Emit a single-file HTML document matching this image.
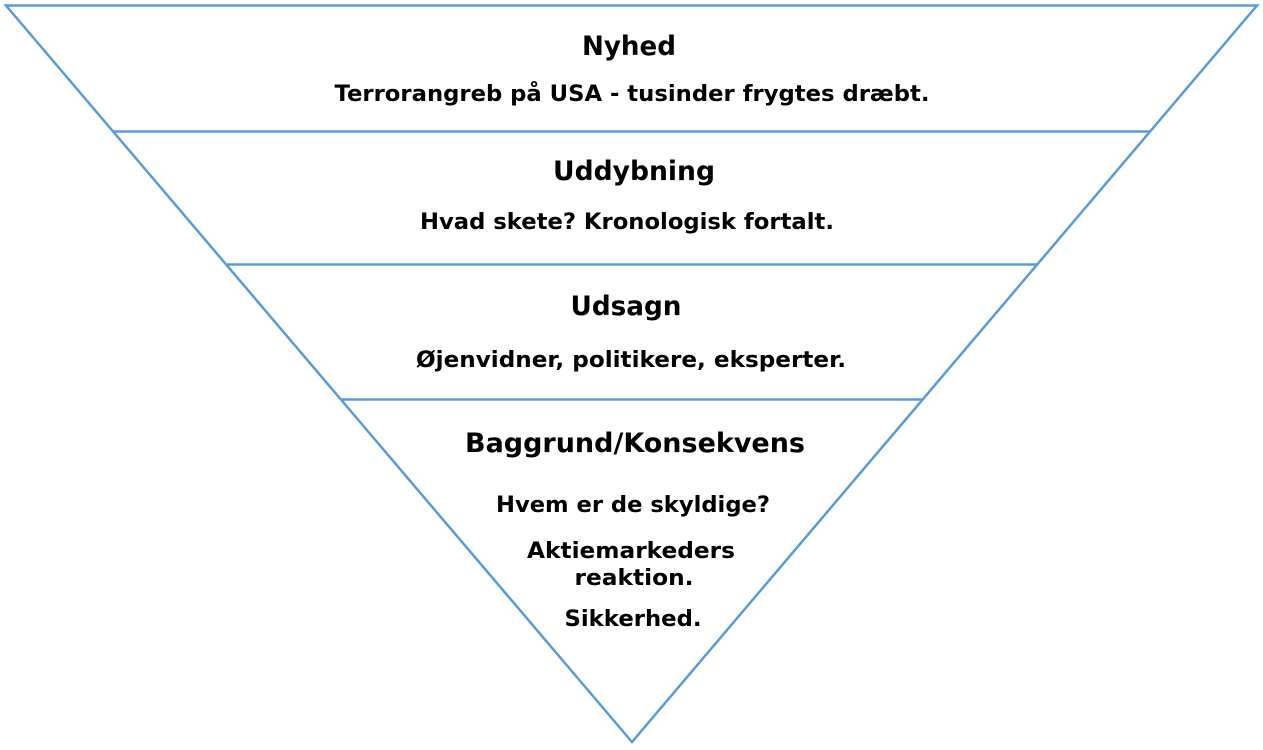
<!DOCTYPE html>
<html><head><meta charset="utf-8"><style>
html,body{margin:0;padding:0;background:#fff;}
svg{display:block}
text{font-family:"DejaVu Sans","Liberation Sans",sans-serif;font-weight:bold;fill:#000;text-anchor:middle}
.h{font-size:27px}
.s{font-size:22px}
</style></head><body>
<svg width="1263" height="750" viewBox="0 0 1263 750" xmlns="http://www.w3.org/2000/svg">
<g stroke="#5b9bd5" stroke-width="2.5" fill="none">
<polygon points="6,5.5 1257,5.5 632,742"/>
<line x1="114" y1="131.5" x2="1150" y2="131.5"/>
<line x1="227" y1="264.5" x2="1037" y2="264.5"/>
<line x1="341" y1="399.5" x2="922" y2="399.5"/>
</g>
<g lengthAdjust="spacingAndGlyphs">
<text class="h" x="629" y="55" textLength="94" lengthAdjust="spacingAndGlyphs">Nyhed</text>
<text class="s" x="632" y="101" textLength="595" lengthAdjust="spacingAndGlyphs">Terrorangreb på USA - tusinder frygtes dræbt.</text>
<text class="h" x="634" y="180" textLength="162" lengthAdjust="spacingAndGlyphs">Uddybning</text>
<text class="s" x="627" y="229" textLength="414" lengthAdjust="spacingAndGlyphs">Hvad skete? Kronologisk fortalt.</text>
<text class="h" x="626" y="315" textLength="111" lengthAdjust="spacingAndGlyphs">Udsagn</text>
<text class="s" x="631" y="367" textLength="430" lengthAdjust="spacingAndGlyphs">Øjenvidner, politikere, eksperter.</text>
<text class="h" x="635" y="452" textLength="340" lengthAdjust="spacingAndGlyphs">Baggrund/Konsekvens</text>
<text class="s" x="633" y="512" textLength="274" lengthAdjust="spacingAndGlyphs">Hvem er de skyldige?</text>
<text class="s" x="631" y="558" textLength="208" lengthAdjust="spacingAndGlyphs">Aktiemarkeders</text>
<text class="s" x="634" y="585" textLength="119" lengthAdjust="spacingAndGlyphs">reaktion.</text>
<text class="s" x="633" y="626" textLength="137" lengthAdjust="spacingAndGlyphs">Sikkerhed.</text>
</g>
</svg>
</body></html>
